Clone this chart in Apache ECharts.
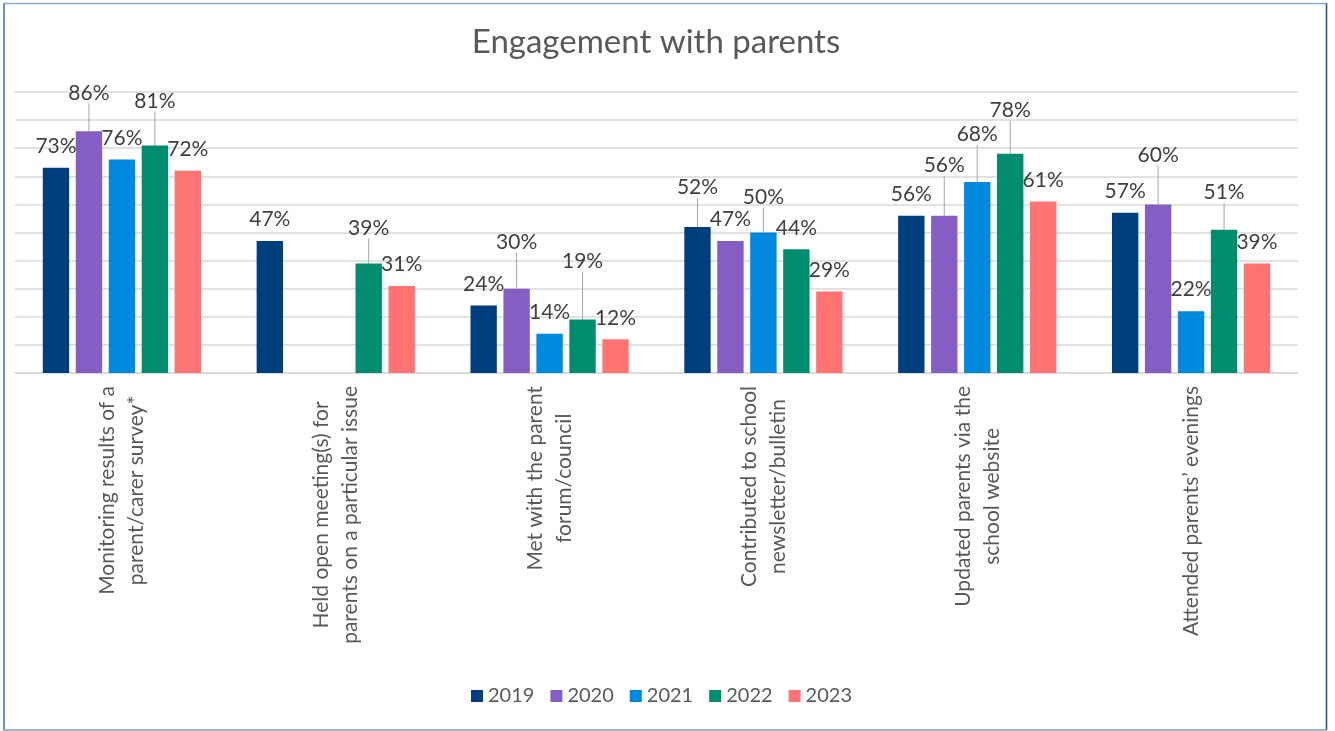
<!DOCTYPE html>
<html>
<head>
<meta charset="utf-8">
<title>Engagement with parents</title>
<script src="https://cdn.jsdelivr.net/npm/echarts@6/dist/echarts.min.js"></script>
<style>
  html, body { margin: 0; padding: 0; background: #ffffff; }
  #chart { width: 1335px; height: 731px; }
</style>
</head>
<body>
<div id="chart"></div>
<script>
// Categories shown on the x axis (line breaks as they wrap under the bars)
const categories = [
  'Monitoring results of a\nparent/carer survey*',
  'Held open meeting(s) for\nparents on a particular issue',
  'Met with the parent\nforum/council',
  'Contributed to school\nnewsletter/bulletin',
  'Updated parents via the\nschool website',
  'Attended parents\u2019 evenings'
];

const years = ['2019', '2020', '2021', '2022', '2023'];

// Percentage of respondents per activity, one array per survey year ('-' = not asked)
const values2019 = [73, 47, 24, 52, 56, 57];
const values2020 = [86, '-', 30, 47, 56, 60];
const values2021 = [76, '-', 14, 50, 68, 22];
const values2022 = [81, 39, 19, 44, 78, 51];
const values2023 = [72, 31, 12, 29, 61, 39];

const yTicks = [0, 10, 20, 30, 40, 50, 60, 70, 80, 90, 100];

// Presentation settings
const seriesValues = [values2019, values2020, values2021, values2022, values2023];
const colors = ['#003f7d', '#845ec2', '#0089de', '#008d6f', '#ff7373'];
// Extra upward shift (px) for labels that sit on a leader line
const labelLift = [
  [0, 0, 0, 18, 0, 0],
  [17, 0, 25, 0, 29, 28],
  [0, 0, 0, 14, 26, 0],
  [23, 14, 37, 0, 22, 16],
  [0, 0, 0, 0, 0, 0]
];
const FONT = 'Lato, "Noto Sans", sans-serif';

const chart = echarts.init(document.getElementById('chart'), null, { renderer: 'canvas' });

const series = years.map((year, i) => ({
  name: year,
  type: 'bar',
  barGap: '25%',
  barCategoryGap: '26%',
  itemStyle: { color: colors[i] },
  data: seriesValues[i].map((v, j) => ({
    value: v,
    labelLine: { show: labelLift[i][j] > 0 }
  })),
  label: {
    show: true,
    position: 'top',
    distance: 4,
    padding: [0, 0, 7, 0],
    formatter: '{c}%',
    fontFamily: FONT,
    fontSize: 21,
    color: '#404040'
  },
  labelLine: {
    show: false,
    length2: 0,
    lineStyle: { color: '#a6a6a6', width: 1 }
  },
  labelLayout: (p) => ({ dy: -labelLift[i][p.dataIndex] })
}));

chart.setOption({
  animation: false,
  backgroundColor: '#ffffff',
  title: {
    text: 'Engagement with parents',
    left: 656,
    top: 26,
    textAlign: 'center',
    padding: 0,
    textStyle: { fontFamily: FONT, fontSize: 33, fontWeight: 'normal', color: '#595959' }
  },
  legend: {
    data: years,
    left: 466,
    top: 681,
    icon: 'rect',
    itemWidth: 12,
    itemHeight: 12,
    itemGap: 16,
    textStyle: { fontFamily: FONT, fontSize: 20, color: '#595959' }
  },
  grid: {
    left: 15,
    right: 37,
    top: 92,
    bottom: 358,
    containLabel: false,
    outerBoundsMode: 'none'
  },
  xAxis: {
    type: 'category',
    data: categories,
    axisLine: { show: true, lineStyle: { color: '#d9d9d9', width: 1.5 } },
    axisTick: { show: false },
    axisLabel: {
      interval: 0,
      rotate: 90,
      margin: 13,
      formatter: (v) => v.split('\n').map((s) => '{c|' + s + '}').join('\n'),
      rich: {
        c: { align: 'center', fontFamily: FONT, fontSize: 21, lineHeight: 29, color: '#595959' }
      }
    }
  },
  yAxis: {
    type: 'value',
    min: yTicks[0],
    max: yTicks[yTicks.length - 1],
    interval: yTicks[1] - yTicks[0],
    axisLine: { show: false },
    axisTick: { show: false },
    axisLabel: { show: false },
    splitLine: { show: true, lineStyle: { color: '#d9d9d9', width: 1.5 } }
  },
  graphic: [
    { type: 'line', shape: { x1: 3.5, y1: 3.5, x2: 1326.5, y2: 3.5 }, style: { stroke: '#8eaacc', lineWidth: 1.5 }, silent: true },
    { type: 'line', shape: { x1: 4, y1: 3.5, x2: 4, y2: 730 }, style: { stroke: '#2e75b6', lineWidth: 1.5 }, silent: true },
    { type: 'line', shape: { x1: 1326.5, y1: 3.5, x2: 1326.5, y2: 730 }, style: { stroke: '#1f4e79', lineWidth: 1.5 }, silent: true },
    { type: 'line', shape: { x1: 3.5, y1: 730, x2: 1326.5, y2: 730 }, style: { stroke: '#7f9fbf', lineWidth: 1.5 }, silent: true }
  ],
  series: series
});
</script>
</body>
</html>
